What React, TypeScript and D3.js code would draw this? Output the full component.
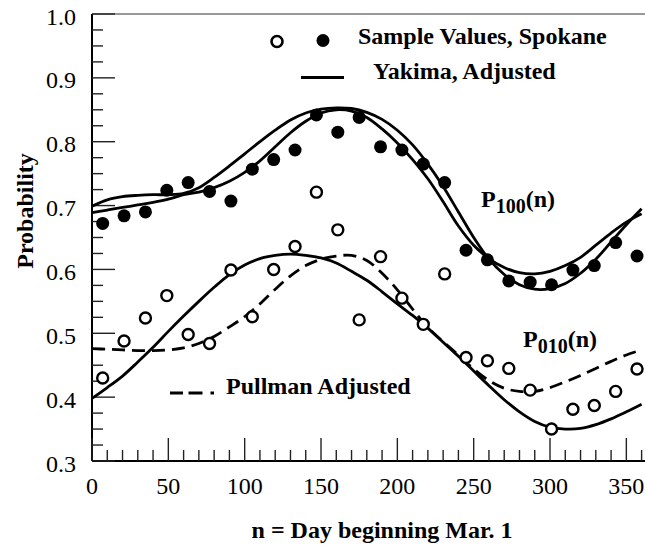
import React from "react";
import * as d3 from "d3";

const sampleDays = [7, 21, 35, 49, 63, 77, 91, 105, 119, 133, 147, 161, 175, 189, 203, 217, 231, 245, 259, 273, 287, 301, 315, 329, 343, 357];
const spokaneP100 = [0.672, 0.684, 0.690, 0.724, 0.736, 0.722, 0.707, 0.757, 0.772, 0.787, 0.842, 0.815, 0.838, 0.792, 0.787, 0.765, 0.736, 0.630, 0.615, 0.582, 0.580, 0.576, 0.599, 0.606, 0.642, 0.621];
const spokaneP010 = [0.430, 0.488, 0.524, 0.559, 0.498, 0.484, 0.599, 0.526, 0.600, 0.636, 0.721, 0.662, 0.521, 0.620, 0.555, 0.514, 0.593, 0.462, 0.457, 0.445, 0.411, 0.350, 0.381, 0.387, 0.409, 0.444];

const curveDays = [0, 10, 20, 30, 40, 50, 60, 70, 80, 90, 100, 110, 120, 130, 140, 150, 160, 170, 180, 190, 200, 210, 220, 230, 240, 250, 260, 270, 280, 290, 300, 310, 320, 330, 340, 350, 360];
const yakimaP100 = [0.699, 0.709, 0.714, 0.716, 0.717, 0.717, 0.719, 0.728, 0.744, 0.762, 0.781, 0.800, 0.818, 0.834, 0.845, 0.851, 0.853, 0.852, 0.846, 0.835, 0.818, 0.795, 0.765, 0.730, 0.690, 0.650, 0.616, 0.592, 0.576, 0.569, 0.570, 0.578, 0.594, 0.616, 0.643, 0.670, 0.695];
const fitP100 = [0.689, 0.693, 0.697, 0.701, 0.705, 0.710, 0.717, 0.721, 0.728, 0.738, 0.752, 0.770, 0.792, 0.814, 0.832, 0.845, 0.850, 0.848, 0.838, 0.820, 0.798, 0.772, 0.742, 0.706, 0.668, 0.638, 0.617, 0.603, 0.595, 0.593, 0.597, 0.606, 0.619, 0.638, 0.657, 0.674, 0.687];
const yakimaP010 = [0.398, 0.415, 0.433, 0.455, 0.478, 0.503, 0.527, 0.550, 0.572, 0.592, 0.607, 0.617, 0.622, 0.624, 0.622, 0.618, 0.610, 0.597, 0.583, 0.565, 0.546, 0.528, 0.508, 0.486, 0.464, 0.441, 0.418, 0.396, 0.377, 0.362, 0.353, 0.350, 0.351, 0.357, 0.366, 0.377, 0.389];
const pullmanP010 = [0.476, 0.475, 0.474, 0.473, 0.473, 0.474, 0.477, 0.484, 0.495, 0.510, 0.526, 0.546, 0.569, 0.590, 0.606, 0.616, 0.621, 0.622, 0.614, 0.594, 0.568, 0.538, 0.509, 0.487, 0.466, 0.444, 0.426, 0.414, 0.409, 0.409, 0.415, 0.424, 0.434, 0.445, 0.456, 0.466, 0.474];

const xMajorTicks = [0, 50, 100, 150, 200, 250, 300, 350];
const yMajorTicks = [0.3, 0.4, 0.5, 0.6, 0.7, 0.8, 0.9, 1.0];

const W = 645;
const H = 548;
const left = 92;
const top = 14;
const bottom = 461;
const right = 645;

const FONT = "'Liberation Serif', 'Times New Roman', Times, 'DejaVu Serif', serif";
const txt: React.CSSProperties = { fontFamily: FONT };

export default function App() {
  const x = d3.scaleLinear().domain([0, 362]).range([left, left + 362 * 1.5267]);
  const y = d3.scaleLinear().domain([0.3, 1.0]).range([bottom, top]);

  const line = (vals: number[]) =>
    d3
      .line<number>()
      .x((_, i) => x(curveDays[i]))
      .y((v) => y(v))
      .curve(d3.curveCatmullRom.alpha(0.5))(vals) || "";

  const xMinor = d3.range(0, 361, 10).filter((v) => v % 50 !== 0);
  const yMinor = d3.range(0, 29).map((i) => 0.3 + i * 0.025).filter((v) => Math.abs(v * 10 - Math.round(v * 10)) > 0.01);

  const tickCol = "#222";

  return (
    <svg width={W} height={H} style={{ position: "absolute", left: 0, top: 0, background: "#fff" }}>
      <rect x={0} y={0} width={W} height={H} fill="#fff" />
      {/* frame */}
      <line x1={left} x2={right} y1={top} y2={top} stroke="#777" strokeWidth={1.5} />
      <line x1={left} x2={left} y1={top} y2={bottom} stroke="#000" strokeWidth={2} />
      <line x1={left} x2={right} y1={bottom} y2={bottom} stroke="#000" strokeWidth={2} />
      {/* y ticks */}
      {yMajorTicks.map((t) => (
        <g key={"ym" + t}>
          <line x1={left} x2={left + 23} y1={y(t)} y2={y(t)} stroke={tickCol} strokeWidth={1.4} />
          <text x={76} y={y(t) + 10.5} textAnchor="end" fontSize={24} style={txt}>
            {t.toFixed(1)}
          </text>
        </g>
      ))}
      {yMinor.map((t) => (
        <line key={"yn" + t} x1={left} x2={left + 11} y1={y(t)} y2={y(t)} stroke={tickCol} strokeWidth={1.4} />
      ))}
      {/* x ticks */}
      {xMajorTicks.map((t) => (
        <g key={"xm" + t}>
          <line x1={x(t)} x2={x(t)} y1={bottom} y2={bottom - 23} stroke={tickCol} strokeWidth={1.4} />
          <text x={x(t)} y={494} textAnchor="middle" fontSize={24} style={txt}>
            {t}
          </text>
        </g>
      ))}
      {xMinor.map((t) => (
        <line key={"xn" + t} x1={x(t)} x2={x(t)} y1={bottom} y2={bottom - 11} stroke={tickCol} strokeWidth={1.4} />
      ))}
      {/* axis titles */}
      <text x={382} y={538} textAnchor="middle" fontSize={24} fontWeight="bold" style={txt}>
        n = Day beginning Mar. 1
      </text>
      <text transform="translate(33,211) rotate(-90)" textAnchor="middle" fontSize={24} fontWeight="bold" style={txt}>
        Probability
      </text>
      {/* curves */}
      <path d={line(yakimaP100)} fill="none" stroke="#000" strokeWidth={2.8} />
      <path d={line(fitP100)} fill="none" stroke="#000" strokeWidth={2.8} />
      <path d={line(yakimaP010)} fill="none" stroke="#000" strokeWidth={2.8} />
      <path d={line(pullmanP010)} fill="none" stroke="#000" strokeWidth={2.8} strokeDasharray="13,7" />
      {/* points */}
      {sampleDays.map((d, i) => (
        <circle key={"f" + d} cx={x(d)} cy={y(spokaneP100[i])} r={6.5} fill="#000" />
      ))}
      {sampleDays.map((d, i) => (
        <circle key={"o" + d} cx={x(d)} cy={y(spokaneP010[i])} r={5.5} fill="#fff" stroke="#000" strokeWidth={2.4} />
      ))}
      {/* legend */}
      <circle cx={277} cy={41.5} r={5.5} fill="#fff" stroke="#000" strokeWidth={2.6} />
      <circle cx={323} cy={40.5} r={6.5} fill="#000" />
      <text x={358} y={43.5} fontSize={24} fontWeight="bold" style={txt}>
        Sample Values, Spokane
      </text>
      <line x1={301} x2={344} y1={77.5} y2={77.5} stroke="#000" strokeWidth={3} />
      <text x={373} y={79} fontSize={24} fontWeight="bold" style={txt}>
        Yakima, Adjusted
      </text>
      <line x1={170} x2={214} y1={393} y2={393} stroke="#000" strokeWidth={3} strokeDasharray="13,5.5,14,8,4,20" />
      <text x={226} y={394} fontSize={24} fontWeight="bold" style={txt}>
        Pullman Adjusted
      </text>
      {/* curve labels */}
      <text x={481} y={207} fontSize={24} fontWeight="bold" style={txt}>
        P<tspan fontSize={20} dy={6}>100</tspan>
        <tspan dy={-6}>(n)</tspan>
      </text>
      <text x={523} y={347} fontSize={24} fontWeight="bold" style={txt}>
        P<tspan fontSize={20} dy={6}>010</tspan>
        <tspan dy={-6}>(n)</tspan>
      </text>
    </svg>
  );
}
